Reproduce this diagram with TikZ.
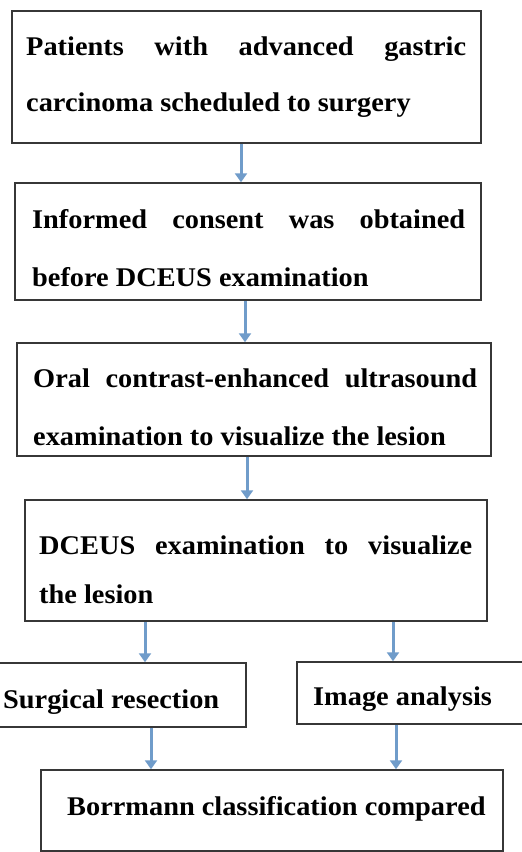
\documentclass[tikz,border=0pt]{standalone}
\usepackage{fontspec}
\setmainfont{Liberation Serif}[FakeStretch=1.05]
\usetikzlibrary{arrows.meta}
\definecolor{arrowblue}{RGB}{112,156,202}
\definecolor{boxline}{RGB}{55,55,55}
\tikzset{
  box/.style={draw=boxline, line width=1.5pt, rectangle, inner sep=0pt},
  txt/.style={anchor=base west, inner sep=0pt, font=\fontsize{27}{32}\selectfont\bfseries},
  arr/.style={draw=arrowblue, line width=3pt, -{Triangle[width=12pt,length=9pt]}}
}
\newcommand{\jline}[2]{\makebox[#1][s]{#2}}
\begin{document}
\begin{tikzpicture}[x=1pt,y=-1pt]
\useasboundingbox (0,0) rectangle (522,852);
\fill[white] (0,0) rectangle (522,852);
% boxes
\node[box, minimum width=469pt, minimum height=132pt] (b1) at (246.5,77) {};
\node[box, minimum width=466pt, minimum height=117pt] (b2) at (248,241.5) {};
\node[box, minimum width=474pt, minimum height=113pt] (b3) at (254,399.5) {};
\node[box, minimum width=462pt, minimum height=121pt] (b4) at (256,560.5) {};
\node[box, minimum width=266pt, minimum height=64pt] (b5) at (113,695) {};
\node[box, minimum width=245pt, minimum height=62pt] (b6) at (419.5,693) {};
\node[box, minimum width=462pt, minimum height=81pt] (b7) at (272,810.5) {};
% texts
\node[txt] (t1a) at (26,55) {\jline{440pt}{Patients with advanced gastric}};
\node[txt] (t1b) at (26,111) {carcinoma scheduled to surgery};
\node[txt] (t2a) at (32,228) {\jline{433pt}{Informed consent was obtained}};
\node[txt] (t2b) at (32,286) {before DCEUS examination};
\node[txt] (t3a) at (33,387) {\jline{444pt}{Oral contrast-enhanced ultrasound}};
\node[txt] (t3b) at (33,445) {examination to visualize the lesion};
\node[txt] (t4a) at (39,554) {\jline{433pt}{DCEUS examination to visualize}};
\node[txt] (t4b) at (39,603) {the lesion};
\node[txt] (t5) at (3,708) {Surgical resection};
\node[txt] (t6) at (313,705) {Image analysis};
\node[txt] (t7) at (67,815) {Borrmann classification compared};
% arrow x positions
\coordinate (x1) at (241,0);
\coordinate (x2) at (245,0);
\coordinate (x3) at (247,0);
\coordinate (x4) at (145,0);
\coordinate (x5) at (393,0);
\coordinate (x6) at (151,0);
\coordinate (x7) at (396,0);
\draw[arr] (b1.south -| x1) -- (b2.north -| x1);
\draw[arr] (b2.south -| x2) -- (b3.north -| x2);
\draw[arr] (b3.south -| x3) -- (b4.north -| x3);
\draw[arr] (b4.south -| x4) -- (b5.north -| x4);
\draw[arr] (b4.south -| x5) -- (b6.north -| x5);
\draw[arr] (b5.south -| x6) -- (b7.north -| x6);
\draw[arr] (b6.south -| x7) -- (b7.north -| x7);
\end{tikzpicture}
\end{document}
